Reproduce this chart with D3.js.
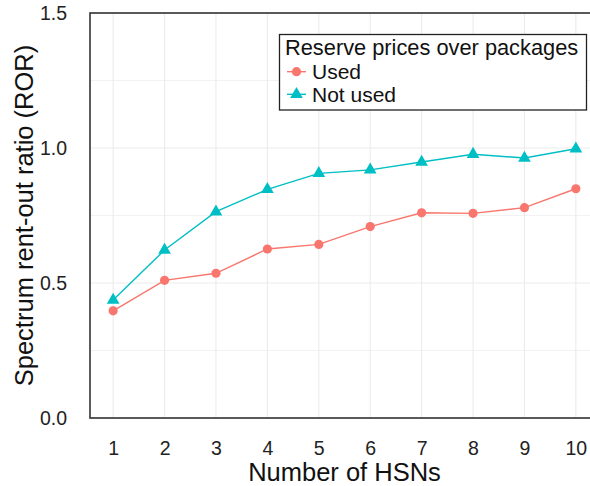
<!DOCTYPE html>
<html>
<head>
<meta charset="utf-8">
<script src="https://cdn.jsdelivr.net/npm/d3@7"></script>
<style>
  html, body { margin: 0; padding: 0; background: #fff; }
  svg { display: block; font-family: "Liberation Sans", Arial, Helvetica, sans-serif; }
</style>
</head>
<body>
<svg id="chart" width="590" height="486"></svg>
<script>
const hsns = [1, 2, 3, 4, 5, 6, 7, 8, 9, 10];
const usedValues = [0.397, 0.51, 0.536, 0.626, 0.643, 0.709, 0.760, 0.758, 0.779, 0.849];
const notUsedValues = [0.437, 0.622, 0.764, 0.847, 0.906, 0.919, 0.948, 0.977, 0.963, 0.997];
const seriesNames = ["Used", "Not used"];
const seriesColors = ["#F8766D", "#00BFC4"];
const yTicks = [0.0, 0.5, 1.0, 1.5];
const yMinor = [0.25, 0.75, 1.25];
const xTicks = hsns;
const legendTitle = "Reserve prices over packages";
const xTitle = "Number of HSNs";
const yTitle = "Spectrum rent-out ratio (ROR)";

const svg = d3.select("#chart");
const panel = { left: 90, right: 599, top: 13, bottom: 418 };

const x = d3.scaleLinear().domain([0.55, 10.45]).range([panel.left, panel.right]);
const y = d3.scaleLinear().domain([0, 1.5]).range([panel.bottom, panel.top]);

// grid
const grid = svg.append("g");
grid.selectAll("line.hmin").data(yMinor).join("line")
  .attr("x1", panel.left).attr("x2", panel.right)
  .attr("y1", d => y(d)).attr("y2", d => y(d))
  .attr("stroke", "#F2F2F2").attr("stroke-width", 1);
grid.selectAll("line.hmaj").data(yTicks).join("line")
  .attr("x1", panel.left).attr("x2", panel.right)
  .attr("y1", d => y(d)).attr("y2", d => y(d))
  .attr("stroke", "#EBEBEB").attr("stroke-width", 1.1);
grid.selectAll("line.v").data(xTicks).join("line")
  .attr("x1", d => x(d)).attr("x2", d => x(d))
  .attr("y1", panel.top).attr("y2", panel.bottom)
  .attr("stroke", "#EBEBEB").attr("stroke-width", 1.1);

// panel border
svg.append("rect")
  .attr("x", panel.left).attr("y", panel.top)
  .attr("width", panel.right - panel.left).attr("height", panel.bottom - panel.top)
  .attr("fill", "none").attr("stroke", "#333").attr("stroke-width", 1.6);

// axes (labels only)
const yAxis = d3.axisLeft(y).tickValues(yTicks).tickFormat(d3.format(".1f")).tickSize(0).tickPadding(23);
const yg = svg.append("g").attr("transform", `translate(${panel.left},0)`).call(yAxis);
yg.select(".domain").remove();
yg.selectAll("text").attr("font-size", 19.5).attr("fill", "#222").attr("font-family", "Liberation Sans, Arial, sans-serif");

const xAxis = d3.axisBottom(x).tickValues(xTicks).tickFormat(d3.format("d")).tickSize(0).tickPadding(23);
const xg = svg.append("g").attr("transform", `translate(0,${panel.bottom})`).call(xAxis);
xg.select(".domain").remove();
xg.selectAll("text").attr("font-size", 19.5).attr("fill", "#222").attr("font-family", "Liberation Sans, Arial, sans-serif");

// titles
svg.append("text").attr("x", (panel.left + panel.right) / 2).attr("y", 480.5)
  .attr("text-anchor", "middle").attr("font-size", 25.5).attr("fill", "#111").text(xTitle);
svg.append("text").attr("transform", `translate(33,${(panel.top + panel.bottom) / 2}) rotate(-90)`)
  .attr("text-anchor", "middle").attr("font-size", 25.5).attr("fill", "#111").text(yTitle);

// series
const series = [usedValues, notUsedValues];
const line = d3.line().x((d, i) => x(hsns[i])).y(d => y(d));
const symbols = [d3.symbolCircle, d3.symbolTriangle];
const symSizes = [66, 70];

series.forEach((vals, si) => {
  svg.append("path").datum(vals).attr("d", line)
    .attr("fill", "none").attr("stroke", seriesColors[si]).attr("stroke-width", 1.4);
  svg.append("g").selectAll("path").data(vals).join("path")
    .attr("transform", (d, i) => `translate(${x(hsns[i])},${y(d)})`)
    .attr("d", d3.symbol().type(symbols[si]).size(symSizes[si]))
    .attr("fill", seriesColors[si]);
});

// legend
const lg = svg.append("g");
lg.append("rect").attr("x", 279.5).attr("y", 34.5).attr("width", 307).attr("height", 75.5)
  .attr("fill", "#fff").attr("stroke", "#222").attr("stroke-width", 1.3);
lg.append("text").attr("x", 285).attr("y", 55).attr("font-size", 21.8).attr("fill", "#111").text(legendTitle);
const rowY = [71.7, 94.3];
seriesNames.forEach((name, si) => {
  lg.append("line").attr("x1", 287).attr("x2", 306).attr("y1", rowY[si]).attr("y2", rowY[si])
    .attr("stroke", seriesColors[si]).attr("stroke-width", 1.4);
  lg.append("path").attr("transform", `translate(296.5,${rowY[si]})`)
    .attr("d", d3.symbol().type(symbols[si]).size(symSizes[si])).attr("fill", seriesColors[si]);
  lg.append("text").attr("x", 312).attr("y", rowY[si] + 7.3).attr("font-size", 21).attr("fill", "#111").text(name);
});
</script>
</body>
</html>
